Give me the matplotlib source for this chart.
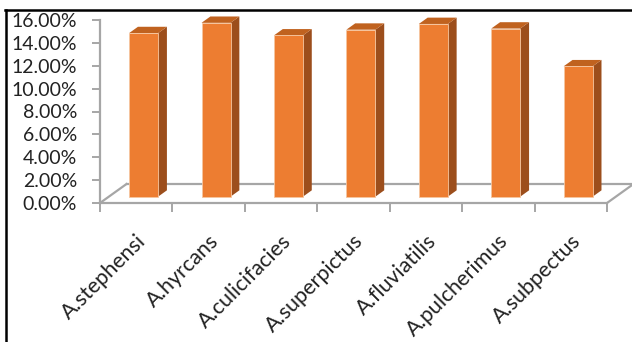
import numpy as np
import matplotlib
matplotlib.use("Agg")
import matplotlib.pyplot as plt
from matplotlib.lines import Line2D
from matplotlib.patches import Polygon

categories = ["A.stephensi", "A.hyrcans", "A.culicifacies", "A.superpictus",
              "A.fluviatilis", "A.pulcherimus", "A.subpectus"]
values = [14.3, 15.2, 14.1, 14.6, 15.1, 14.7, 11.4]
yticks = [0, 2, 4, 6, 8, 10, 12, 14, 16]

W, H = 632, 342
fig = plt.figure(figsize=(W / 100, H / 100), dpi=100)
plt.rcParams['font.family'] = ['Lato', 'DejaVu Sans']

ax = fig.add_axes([100 / W, (H - 203) / H, 507 / W, 183 / H])
n = len(categories)
ax.set_xlim(0, n)
ax.set_ylim(0, 16)

front = '#ED7D31'
side = '#9C4E1C'
top = '#C0621F'
gray = '#A6A6A6'

# depth of floor (in data units)
dx = 26.5 / (507 / n)
dy = 19.0 / (183 / 16)
fx, fy = dx / 3, dy / 3
bw = 0.40

x = np.arange(n) + 0.5 + fx - 0.02
ax.bar(x, values, width=bw, bottom=fy, color=front, edgecolor='#F6C6A0',
       linewidth=0.6, clip_on=False, zorder=4)
for xi, v in zip(x, values):
    l, r = xi - bw / 2, xi + bw / 2
    b = fy
    t = fy + v
    ax.add_patch(Polygon([(r, b), (r + fx, b + fy), (r + fx, t + fy), (r, t)],
                         closed=True, facecolor=side, edgecolor='none',
                         clip_on=False, zorder=3))
    ax.add_patch(Polygon([(l, t), (l + fx, t + fy), (r + fx, t + fy), (r, t)],
                         closed=True, facecolor=top, edgecolor='none',
                         clip_on=False, zorder=3))

# floor
ax.plot([0, dx], [0, dy], color=gray, lw=1.6, clip_on=False, zorder=1)
ax.plot([dx, n + dx], [dy, dy], color=gray, lw=1.6, clip_on=False, zorder=1)
ax.plot([n, n + dx], [0, dy], color=gray, lw=1.6, clip_on=False, zorder=1)

for s in ['top', 'right']:
    ax.spines[s].set_visible(False)
for s in ['left', 'bottom']:
    ax.spines[s].set_color(gray)
    ax.spines[s].set_linewidth(1.6)

ax.set_yticks(yticks)
ax.set_yticklabels([f"{v:.2f}%" for v in yticks], fontsize=14, color='#222222')
ax.tick_params(axis='y', length=5.5, width=1.4, color=gray, pad=11)

ax.set_xticks(np.arange(n + 1), minor=True)
ax.tick_params(axis='x', which='minor', length=6.5, width=1.4, color=gray)
ax.set_xticks(np.arange(n) + 0.5)
ax.set_xticklabels(categories, rotation=45, ha='right', va='top',
                   rotation_mode='anchor', fontsize=15.5, color='#222222')
ax.tick_params(axis='x', which='major', length=0, pad=20)

# outer frame (top and left)
fig.add_artist(Line2D([5 / W, 1], [(H - 10) / H] * 2, color='black', lw=1.8))
fig.add_artist(Line2D([6 / W] * 2, [0, (H - 10) / H], color='black', lw=1.8))

fig.savefig("out.png", dpi=100)
